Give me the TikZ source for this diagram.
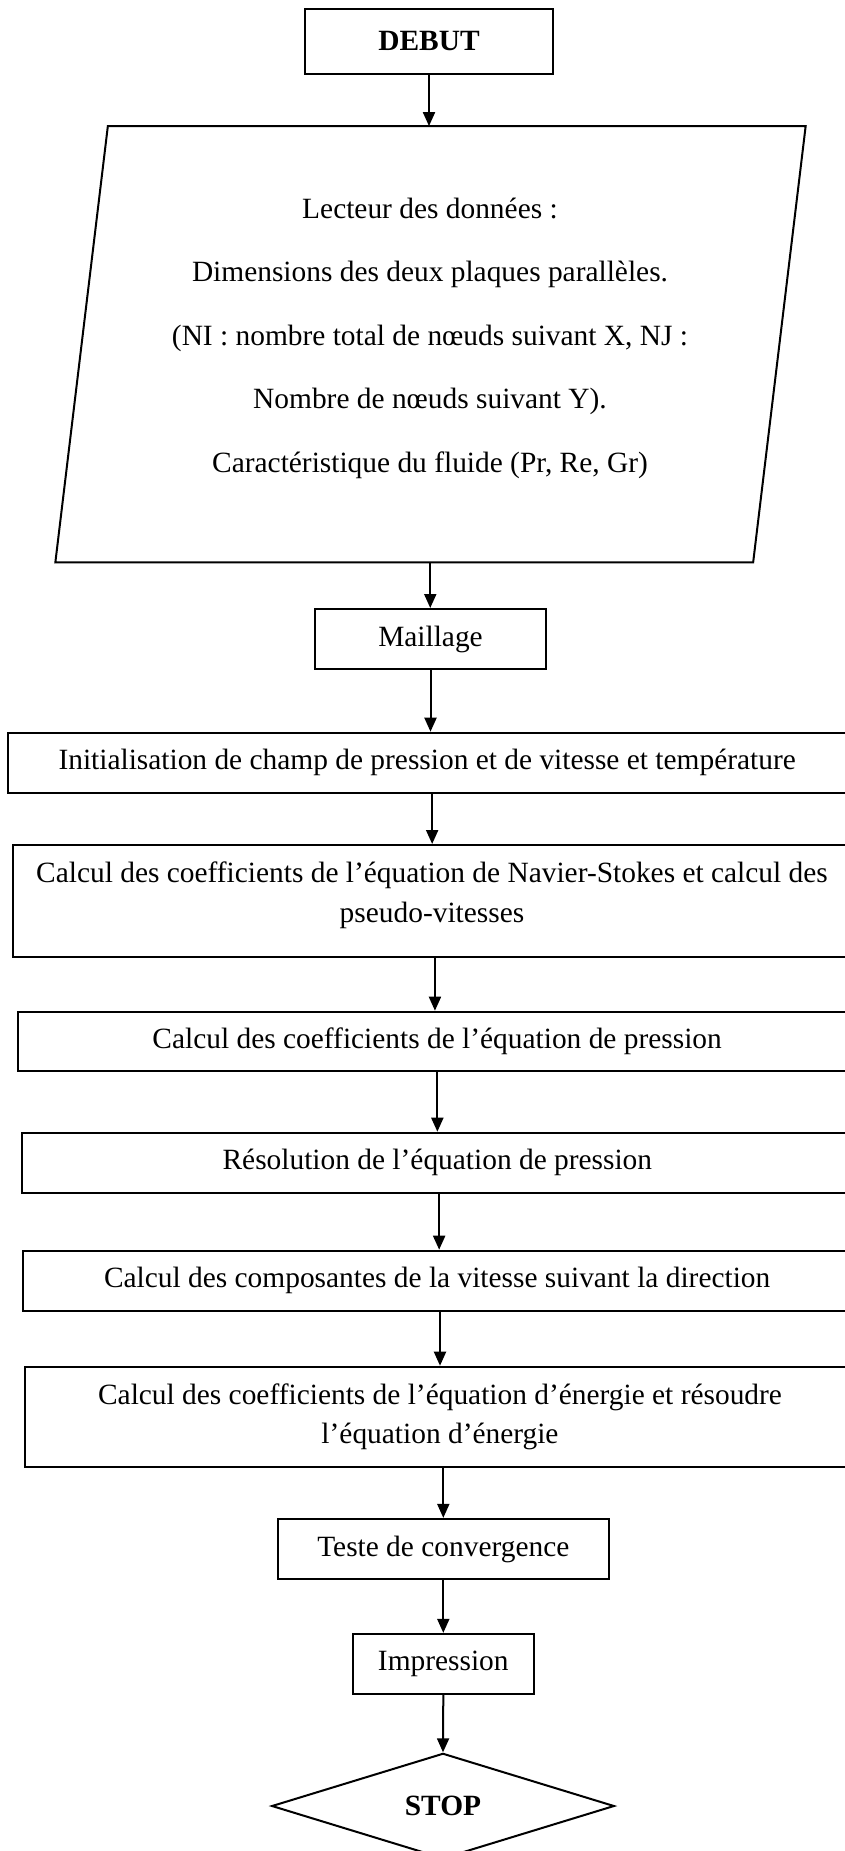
\documentclass[tikz,border=0pt]{standalone}
\usepackage{fontspec}
\setmainfont{Liberation Serif}
\usetikzlibrary{shapes.geometric,arrows.meta}
\begin{document}
\begin{tikzpicture}[x=0.5pt,y=-0.5pt,
  box/.style={draw, line width=1pt, rectangle, inner sep=0pt, align=center, font=\fontsize{14.7}{20}\selectfont},
  txt/.style={align=center, inner sep=0pt, font=\fontsize{14.7}{20}\selectfont},
  arr/.style={line width=1pt, -{Triangle[length=7pt,width=6pt]}}]
\useasboundingbox (0,0) rectangle (845,1851);
\clip (0,0) rectangle (845,1851);

\node[box, minimum width=124pt, minimum height=32.5pt, font=\bfseries\fontsize{14.7}{20}\selectfont] (debut) at (429,41.5) {DEBUT};

\node[minimum width=348.5pt, minimum height=217.75pt, inner sep=0pt] (para) at (430.25,344.25) {};
\draw[line width=1pt] ([xshift=13.25pt]para.north west) -- ([xshift=13.25pt]para.north east) -- ([xshift=-13pt]para.south east) -- ([xshift=-13pt]para.south west) -- cycle;
\node[txt, font=\fontsize{14.7}{31.75}\selectfont] (paratext) at (430,338) {Lecteur des données :\\Dimensions des deux plaques parallèles.\\(NI : nombre total de nœuds suivant X, NJ :\\Nombre de nœuds suivant Y).\\Caractéristique du fluide (Pr, Re, Gr)};

\node[box, minimum width=115.5pt, minimum height=30pt] (mail) at (430.5,639) {Maillage};
\node[box, minimum width=418.85pt, minimum height=30pt] (init) at (427.15,762.7) {Initialisation de champ de pression et de vitesse et température};
\node[box, minimum width=418.85pt, minimum height=55.85pt] (nav) at (432.15,900.85) {};
\node[txt] (navt) at (432,895) {Calcul des coefficients de l’équation de Navier-Stokes et calcul des\\pseudo-vitesses};
\node[box, minimum width=418.85pt, minimum height=29.5pt] (pres) at (437.15,1041.2) {Calcul des coefficients de l’équation de pression};
\node[box, minimum width=415.65pt, minimum height=30.15pt] (res) at (437.35,1162.85) {Résolution de l’équation de pression};
\node[box, minimum width=413.85pt, minimum height=30pt] (comp) at (437.15,1280.7) {Calcul des composantes de la vitesse suivant la direction};
\node[box, minimum width=415pt, minimum height=50.3pt, font=\fontsize{14.7}{19.2}\selectfont] (ener) at (440,1417) {Calcul des coefficients de l’équation d’énergie et résoudre\\l’équation d’énergie};
\node[box, minimum width=165.65pt, minimum height=30.15pt] (teste) at (443.3,1549) {Teste de convergence};
\node[box, minimum width=90.65pt, minimum height=30.15pt] (imp) at (443.3,1664) {Impression};
\node[draw, line width=1pt, diamond, inner sep=0pt, minimum width=171.3pt, minimum height=52.7pt, font=\bfseries\fontsize{14.7}{20}\selectfont] (stop) at (443,1806) {STOP};

\draw[arr] (debut.south) -- (debut.south |- para.north);
\draw[arr] (para.south) -- (para.south |- mail.north);
\draw[arr] (mail.south) -- (mail.south |- init.north);
\draw[arr] (nav.north |- init.south) -- (nav.north);
\draw[arr] ([xshift=1.4pt]nav.south) -- ([xshift=1.4pt]nav.south |- pres.north);
\draw[arr] (res.north |- pres.south) -- (res.north);
\draw[arr] ([xshift=0.9pt]res.south) -- ([xshift=0.9pt]res.south |- comp.north);
\draw[arr] (comp.south -| ener.north) -- (ener.north);
\draw[arr] (ener.south -| teste.north) -- (teste.north);
\draw[arr] (teste.south) -- (imp.north);
\draw[arr] (imp.south) -- (stop.north);
\end{tikzpicture}
\end{document}
